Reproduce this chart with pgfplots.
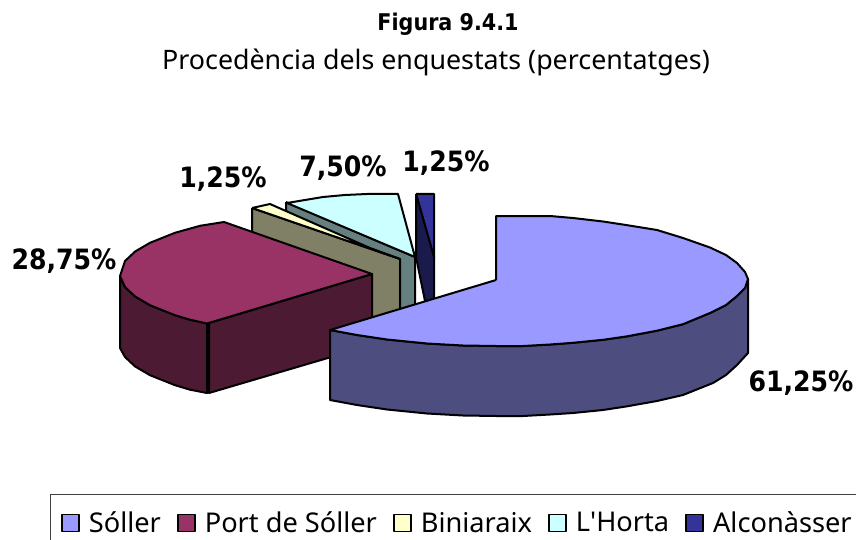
\documentclass[border=0pt]{standalone}
\usepackage{pgfplots}
\pgfplotsset{compat=1.18}
\usepackage{fontspec}
\setmainfont{Noto Sans}[BoldFont={DejaVu Sans Condensed Bold}]
\newfontface\plainf{Noto Sans}
\definecolor{sollerT}{HTML}{9999FF}\definecolor{sollerS}{HTML}{4D4D80}
\definecolor{portT}{HTML}{993366}\definecolor{portS}{HTML}{4D1A33}
\definecolor{biniT}{HTML}{FFFFCC}\definecolor{biniS}{HTML}{808066}
\definecolor{hortaT}{HTML}{CCFFFF}\definecolor{hortaS}{HTML}{668080}
\definecolor{alconT}{HTML}{333399}\definecolor{alconS}{HTML}{1A1A4D}
\begin{document}
\begin{tikzpicture}
\begin{axis}[
  scale only axis, width=856pt, height=540pt,
  xmin=0, xmax=856, ymin=0, ymax=540, y dir=reverse,
  hide axis, clip=true,
  legend columns=5,
  legend cell align=left,
  legend style={at={(axis cs:61,523)}, anchor=west, draw=none, fill=none,
    inner sep=0pt, outer sep=0pt,
    font=\fontsize{27.2}{30}\selectfont,
    /tikz/every even column/.style={column sep=15pt},
    nodes={inner sep=1pt}},
  legend image code/.code={\draw[#1,line width=1.8pt] (0pt,-8.5pt) rectangle (17pt,8.5pt);\path[draw=none,fill=none] (0pt,0pt) -- (26pt,0pt);},
  pie/.style={draw=black, line width=2pt, line join=round},
]
\addlegendimage{pie,fill=sollerT}\addlegendentry{Sóller}
\addlegendimage{pie,fill=portT}\addlegendentry{Port de Sóller}
\addlegendimage{pie,fill=biniT}\addlegendentry{Biniaraix\hspace{-12pt}}
\addlegendimage{pie,fill=hortaT}\addlegendentry{L{\plainf\char39}Horta\hspace{-1pt}}
\addlegendimage{pie,fill=alconT}\addlegendentry{Alconàsser}

% legend frame
\addplot[forget plot, draw=black!75, line width=1.2pt] coordinates {(856,494.5) (50.5,494.5) (50.5,540)};

% Alconasser
\addplot[forget plot, pie, fill=alconT] coordinates {(416,194)(434,194)(434,258)(416,194)};
\addplot[forget plot, pie, fill=alconS] coordinates {(416,194)(434,257)(434,300)(425,301)(416,257)(416,194)};
% L'Horta
\addplot[forget plot, pie, fill=hortaS] coordinates {(286,202)(415,257)(415,340)(286,340)(286,202)};
\addplot[forget plot, pie, fill=hortaT] coordinates {(287,203)(305,200)(323,197)(345,195)(367,194)(398,194)(415,257)(287,203)};
% Biniaraix
\addplot[forget plot, pie, fill=biniS] coordinates {(252,208)(400,259)(400,340)(252,340)(252,208)};
\addplot[forget plot, pie, fill=biniT] coordinates {(252,208)(270,204)(370,248)(400,259)(252,208)};
% Port de Soller
\addplot[forget plot, pie, fill=portS] coordinates {(209,323)(372,274)(372,345)(209,393)(209,323)};
\addplot[forget plot, pie, fill=portS] coordinates {(120,276)(125,287)(135,296.4)(150,305.2)(175,315.2)(190,319.7)(207,323.5)(207,393)(190,389.7)(175,385.2)(150,375.2)(135,366.4)(125,357)(120,348)(120,276)};
\addplot[forget plot, pie, fill=portT] coordinates {(372,274)(207,323.5)(190,319.7)(175,315.2)(150,305.2)(135,296.4)(125,287)(120,276)(125,261)(135,251.6)(150,242.8)(175,232.8)(200,225.8)(224,222)(372,274)};
% Soller
\addplot[forget plot, pie, fill=sollerS] coordinates {(330,330)(357,335)(387,339.5)(427,343.5)(463,345.5)(496,346)(523,346)(550,344.5)(573,342.8)(603,339.8)(626,336.5)(657,330.7)(683,324.2)(710,313)(726,305)(737,296)(745,288)(748,279)(748,353)(737,365)(726,375)(713,383)(683,395)(657,401)(626,406.5)(603,410)(573,413)(550,414.5)(523,416)(496,416)(463,415.5)(427,413.5)(387,409.5)(357,405)(330,400)(330,330)};
\addplot[forget plot, pie, fill=sollerT] coordinates {(496,280)(496,216)(526,216)(550,216)(573,218)(603,221.5)(626,225)(657,230)(683,238)(710,247.5)(726,255)(737,263)(745,272)(748,279)(745,288)(737,296)(726,305)(710,313)(683,324.2)(657,330.7)(626,336.5)(603,339.8)(573,342.8)(550,344.5)(523,346)(496,346)(463,345.5)(427,343.5)(387,339.5)(357,335)(330,330)(496,280)};

% titles and labels
\node[anchor=center,font=\bfseries\fontsize{23}{28}\selectfont] at (axis cs:448,24) {Figura 9.4.1};
\node[anchor=center,font=\fontsize{26.8}{30}\selectfont] at (axis cs:436,62) {Procedència dels enquestats (percentatges)};
\node[anchor=center,font=\bfseries\fontsize{28}{30}\selectfont] at (axis cs:64,261) {28,75\%};
\node[anchor=center,font=\bfseries\fontsize{28}{30}\selectfont] at (axis cs:223,179) {1,25\%};
\node[anchor=center,font=\bfseries\fontsize{28}{30}\selectfont] at (axis cs:343,168) {7,50\%};
\node[anchor=center,font=\bfseries\fontsize{28}{30}\selectfont] at (axis cs:446,163) {1,25\%};
\node[anchor=center,font=\bfseries\fontsize{28}{30}\selectfont] at (axis cs:801,383.5) {61,25\%};
\end{axis}
\pgfresetboundingbox
\path[use as bounding box] (0,0) rectangle (856pt,540pt);
\end{tikzpicture}
\end{document}
